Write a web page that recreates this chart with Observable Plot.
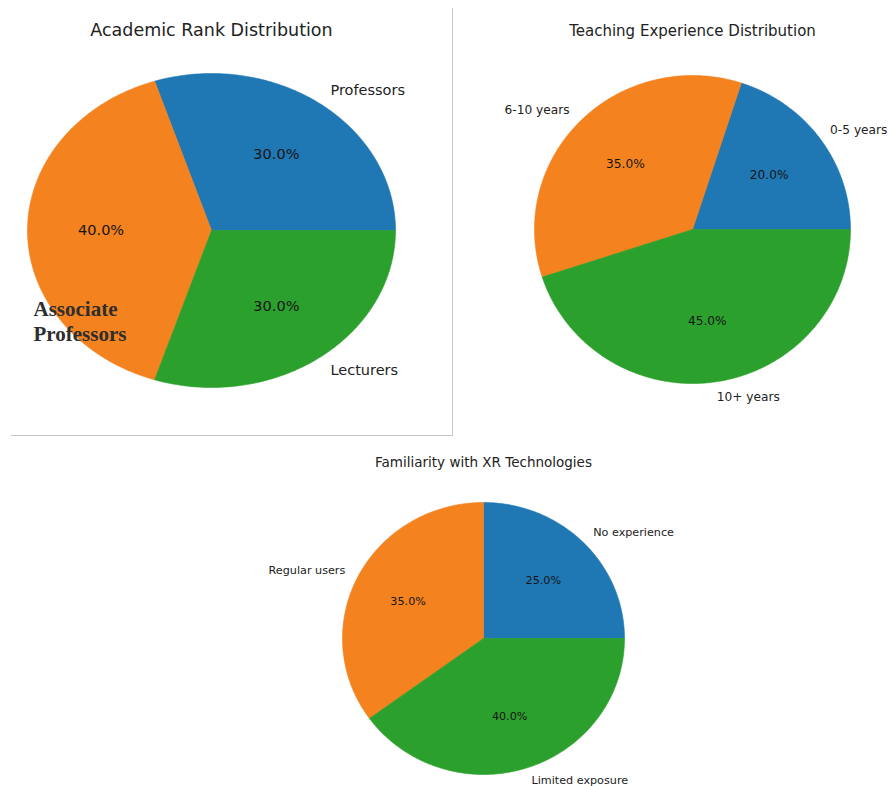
<!DOCTYPE html>
<html>
<head>
<meta charset="utf-8">
<script src="https://cdn.jsdelivr.net/npm/d3@7"></script>
<script src="https://cdn.jsdelivr.net/npm/@observablehq/plot@0.6"></script>
<style>
  body { margin: 0; background: #fff; }
  #wrap { position: relative; width: 890px; height: 786px; overflow: hidden; background: #fff; }
  .panel { position: absolute; }
  .panel svg { overflow: visible; }
  #frame1 {
    position: absolute; left: 11px; top: 8px; width: 441px; height: 427px;
    border-right: 1px solid #c6c6c6; border-bottom: 1px solid #c6c6c6;
  }
</style>
</head>
<body>
<div id="wrap"><div id="frame1"></div></div>
<script>
// Survey breakdowns (percent of respondents)
const rankLabels = ["Professors", "Associate Professors", "Lecturers"];
const rankValues = [30, 40, 30];

const expLabels = ["0-5 years", "6-10 years", "10+ years"];
const expValues = [20, 35, 45];

const xrLabels = ["No experience", "Regular users", "Limited exposure"];
const xrValues = [25, 35, 40];

const sliceColors = ["#1f77b4", "#f4821e", "#2ca02c"];

// Wedge angles, counter-clockwise from 3 o'clock
function wedges(labels, values) {
  const total = d3.sum(values);
  let acc = 0;
  return labels.map((label, i) => {
    const a0 = acc / total * 2 * Math.PI;
    acc += values[i];
    const a1 = acc / total * 2 * Math.PI;
    return { label, value: values[i], pct: values[i] / total * 100, a0, a1, mid: (a0 + a1) / 2 };
  });
}

// Closed outline of every wedge on the unit circle
function outline(ws) {
  const pts = [];
  for (const w of ws) {
    const n = Math.max(2, Math.ceil((w.a1 - w.a0) / (Math.PI / 180)));
    pts.push({ label: w.label, x: 0, y: 0 });
    for (let k = 0; k <= n; k++) {
      const a = w.a0 + (w.a1 - w.a0) * k / n;
      pts.push({ label: w.label, x: Math.cos(a), y: Math.sin(a) });
    }
    pts.push({ label: w.label, x: 0, y: 0 });
  }
  return pts;
}

function piePanel(o) {
  const ws = wedges(o.labels, o.values);
  const lab = ws
    .filter(w => w.label !== o.skipLabel)
    .map(w => ({ ...w, lx: 1.1 * Math.cos(w.mid), ly: 1.1 * Math.sin(w.mid) }));
  const marks = [
    Plot.line(outline(ws), {
      x: "x", y: "y", z: "label", fill: "label", stroke: "label",
      strokeWidth: 0.6, curve: "linear"
    }),
    Plot.text(ws, {
      x: w => 0.6 * Math.cos(w.mid), y: w => 0.6 * Math.sin(w.mid),
      text: w => w.pct.toFixed(1) + "%", fontSize: o.fontSize, fill: "#151515"
    }),
    Plot.text(lab.filter(d => d.lx > 0), {
      x: "lx", y: "ly", text: "label", textAnchor: "start", dx: o.startDx || 0,
      fontSize: o.fontSize, fill: "#222"
    }),
    Plot.text(lab.filter(d => d.lx <= 0), {
      x: "lx", y: "ly", text: "label", textAnchor: "end", fontSize: o.fontSize, fill: "#222"
    }),
    Plot.text([o.title], {
      frameAnchor: "top", text: d => d, dy: o.titleDy, fontSize: o.titleSize, fill: "#222"
    })
  ];
  if (o.extra) marks.push(o.extra(ws));
  return Plot.plot({
    width: o.width, height: o.height,
    marginLeft: o.ml, marginRight: o.mr, marginTop: o.mt, marginBottom: o.mb,
    x: { domain: [-1, 1], axis: null },
    y: { domain: [-1, 1], axis: null },
    color: { domain: o.labels, range: sliceColors },
    style: { fontFamily: "DejaVu Sans", background: "none", overflow: "visible" },
    marks
  });
}

function place(node, left, top) {
  const div = document.createElement("div");
  div.className = "panel";
  div.style.left = left + "px";
  div.style.top = top + "px";
  div.appendChild(node);
  document.getElementById("wrap").appendChild(div);
}

place(piePanel({
  labels: rankLabels, values: rankValues, title: "Academic Rank Distribution",
  width: 455, height: 440, ml: 27, mr: 60, mt: 73, mb: 53,
  fontSize: 14.5, titleSize: 17.5, titleDy: -50,
  skipLabel: "Associate Professors",
  extra: ws => Plot.text(ws.filter(w => w.label === "Associate Professors"), {
    frameAnchor: "bottom-left", textAnchor: "start", lineAnchor: "middle",
    text: w => w.label.replace(" ", "\n"), lineHeight: 1.19,
    dx: 6, dy: -67, fontFamily: "Liberation Serif", fontWeight: "bold",
    fontSize: 21, fill: "#2e2e2e"
  })
}), 0, 0);

place(piePanel({
  labels: expLabels, values: expValues, title: "Teaching Experience Distribution",
  width: 435, height: 430, ml: 79, mr: 40, mt: 75, mb: 47,
  fontSize: 12.2, titleSize: 15, titleDy: -50, startDx: -3
}), 455, 0);

place(piePanel({
  labels: xrLabels, values: xrValues, title: "Familiarity with XR Technologies",
  width: 460, height: 356, ml: 102, mr: 76, mt: 72, mb: 12,
  fontSize: 11.2, titleSize: 13.5, titleDy: -45
}), 240, 430);
</script>
</body>
</html>
